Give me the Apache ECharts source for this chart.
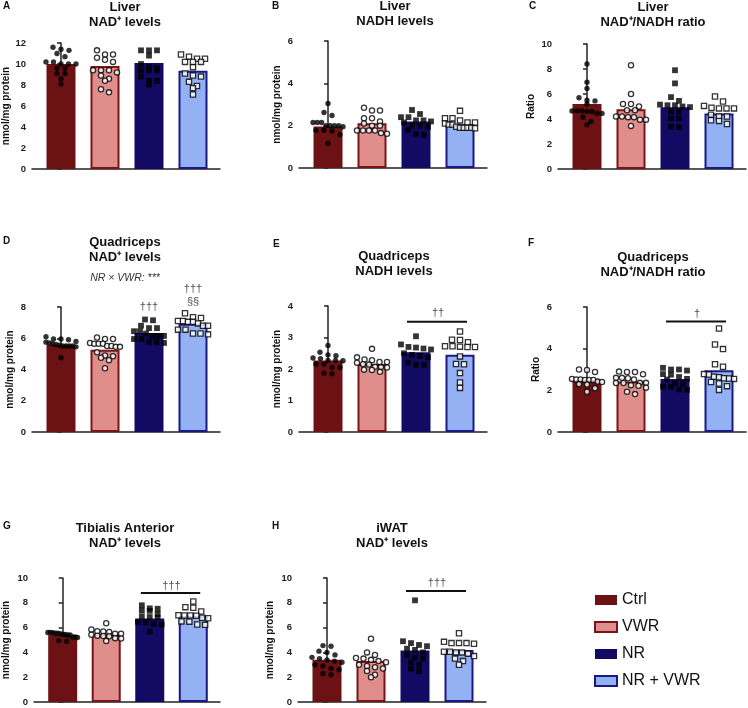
<!DOCTYPE html>
<html><head><meta charset="utf-8">
<script src="https://cdn.jsdelivr.net/npm/echarts@6/dist/echarts.min.js"></script>
<style>html,body{margin:0;padding:0;background:#fff}#c{width:748px;height:708px}</style>
</head><body><div id="c"></div><script>
const groups = ['Ctrl', 'VWR', 'NR', 'NR + VWR'];

// A: Liver NAD+
const liverNadMean = [10.0, 9.8, 10.1, 9.35];
const liverNadCtrl = [11.6, 11.4, 11.3, 11.0, 10.7, 10.2, 10.2, 10.0, 10.0, 10.0, 9.6, 9.6, 9.1, 9.1, 8.6, 8.1];
const liverNadVwr = [11.3, 10.9, 10.9, 10.6, 10.4, 10.2, 9.4, 9.4, 9.4, 9.2, 8.9, 8.6, 8.4, 7.6, 7.3];
const liverNadNr = [11.3, 11.3, 11.3, 10.8, 10.0, 9.7, 9.6, 9.4, 9.4, 9.4, 8.8, 8.4, 8.4, 8.05];
const liverNadNrVwr = [10.9, 10.7, 10.5, 10.5, 10.2, 10.2, 10.2, 9.7, 9.1, 8.9, 8.8, 8.3, 7.9, 7.7, 7.1];
// B: Liver NADH
const liverNadhMean = [1.96, 2.12, 2.2, 2.07];
const liverNadhCtrl = [3.05, 2.62, 2.48, 2.15, 2.15, 2.15, 2.0, 2.0, 2.0, 2.0, 1.95, 1.78, 1.78, 1.75, 1.57, 1.17];
const liverNadhVwr = [2.85, 2.72, 2.72, 2.35, 2.35, 2.2, 2.1, 2.0, 2.0, 1.77, 1.77, 1.77, 1.77, 1.65, 1.62];
const liverNadhNr = [2.74, 2.55, 2.4, 2.4, 2.25, 2.25, 2.2, 2.15, 2.0, 2.0, 1.95, 1.8, 1.6, 1.57];
const liverNadhNrVwr = [2.7, 2.35, 2.35, 2.25, 2.15, 2.15, 2.1, 2.05, 2.05, 1.95, 1.9, 1.9, 1.9, 1.9, 1.88];
// C: Liver ratio
const liverRatioMean = [5.21, 4.79, 4.95, 4.45];
const liverRatioCtrl = [8.4, 6.95, 6.45, 5.7, 5.5, 5.45, 5.2, 4.65, 4.65, 4.65, 4.6, 4.6, 4.45, 4.45, 4.15, 3.8, 3.55];
const liverRatioVwr = [8.3, 6.0, 5.2, 5.2, 5.0, 4.7, 4.7, 4.2, 4.2, 4.15, 4.15, 3.95, 3.95, 3.45];
const liverRatioNr = [7.9, 6.85, 5.75, 5.45, 5.15, 5.1, 5.1, 5.0, 4.95, 4.6, 4.6, 4.05, 4.05, 3.4, 3.35];
const liverRatioNrVwr = [5.8, 5.4, 5.05, 4.9, 4.85, 4.85, 4.85, 4.35, 4.2, 4.2, 3.9, 3.85, 3.6];
// D: Quadriceps NAD+
const quadNadMean = [5.58, 5.26, 6.33, 6.93];
const quadNadCtrl = [6.1, 5.95, 5.95, 5.9, 5.8, 5.75, 5.7, 5.65, 5.6, 5.55, 5.5, 5.5, 5.5, 5.5, 5.45, 4.75];
const quadNadVwr = [6.05, 5.95, 5.95, 5.7, 5.65, 5.65, 5.65, 5.5, 5.5, 5.45, 5.45, 5.1, 4.9, 4.85, 4.75, 4.6, 4.08];
const quadNadNr = [7.2, 7.15, 6.8, 6.65, 6.65, 6.45, 6.45, 6.3, 6.15, 6.15, 6.15, 5.95, 5.95, 5.75, 5.75, 5.7];
const quadNadNrVwr = [7.6, 7.35, 7.3, 7.1, 7.1, 7.05, 7.05, 6.95, 6.8, 6.8, 6.55, 6.55, 6.3, 6.3, 6.25];
// E: Quadriceps NADH
const quadNadhMean = [2.27, 2.16, 2.53, 2.45];
const quadNadhCtrl = [2.75, 2.53, 2.45, 2.42, 2.35, 2.33, 2.27, 2.27, 2.26, 2.16, 2.15, 2.05, 2.05, 1.87, 1.85];
const quadNadhVwr = [2.64, 2.37, 2.3, 2.28, 2.22, 2.22, 2.2, 2.15, 2.14, 2.07, 2.06, 2.05, 1.98, 1.97, 1.91];
const quadNadhNr = [3.04, 2.78, 2.7, 2.68, 2.65, 2.62, 2.5, 2.45, 2.42, 2.37, 2.2, 2.13, 2.13];
const quadNadhNrVwr = [3.19, 2.93, 2.92, 2.85, 2.72, 2.72, 2.71, 2.7, 2.7, 2.4, 2.16, 2.15, 1.87, 1.57, 1.4];
// F: Quadriceps ratio
const quadRatioMean = [2.51, 2.43, 2.54, 2.96];
const quadRatioCtrl = [3.0, 2.98, 2.88, 2.55, 2.52, 2.52, 2.5, 2.5, 2.5, 2.42, 2.4, 2.3, 2.28, 2.1, 1.93];
const quadRatioVwr = [2.9, 2.88, 2.88, 2.77, 2.6, 2.6, 2.58, 2.52, 2.36, 2.36, 2.35, 2.35, 2.25, 2.22, 2.13, 1.93, 1.82];
const quadRatioNr = [3.08, 3.0, 3.0, 2.95, 2.78, 2.75, 2.64, 2.55, 2.52, 2.35, 2.32, 2.18, 2.17, 2.05, 2.02];
const quadRatioNrVwr = [4.97, 4.2, 3.98, 3.25, 3.13, 2.78, 2.76, 2.65, 2.63, 2.58, 2.57, 2.55, 2.4, 2.33, 2.2, 2.02];
// G: Tibialis anterior NAD+
const taNadMean = [5.4, 5.45, 6.74, 6.93];
const taNadCtrl = [5.6, 5.6, 5.58, 5.55, 5.55, 5.5, 5.45, 5.45, 5.4, 5.4, 5.25, 5.25, 5.2, 4.95, 4.9];
const taNadVwr = [6.35, 5.85, 5.7, 5.68, 5.65, 5.5, 5.5, 5.42, 5.35, 5.32, 5.3, 5.15, 5.12, 4.92];
const taNadNr = [7.8, 7.55, 7.52, 7.38, 7.35, 7.1, 6.9, 6.85, 6.8, 6.45, 6.4, 6.28, 6.25, 5.68];
const taNadNrVwr = [8.1, 7.65, 7.6, 7.3, 7.0, 6.98, 6.97, 6.95, 6.8, 6.75, 6.5, 6.48, 6.25, 6.22];
// H: iWAT NAD+
const watNadMean = [3.4, 3.3, 4.15, 4.2];
const watNadCtrl = [4.55, 4.5, 4.1, 4.0, 3.8, 3.6, 3.5, 3.4, 3.3, 3.2, 3.0, 2.9, 2.7, 2.6, 2.3, 2.2];
const watNadVwr = [5.1, 4.0, 3.8, 3.55, 3.5, 3.4, 3.3, 3.2, 3.0, 2.9, 2.8, 2.7, 2.5, 2.2, 2.0];
const watNadNr = [8.2, 4.9, 4.75, 4.6, 4.5, 4.3, 4.2, 4.0, 3.8, 3.6, 3.5, 3.2, 3.0, 2.7, 2.5];
const watNadNrVwr = [5.55, 4.85, 4.75, 4.75, 4.75, 4.7, 4.05, 4.05, 4.0, 4.0, 3.9, 3.7, 3.5, 3.3, 3.0];

// significance annotations (value level of bar / text)
const sigE = { level: 3.5, text: '††', textLevel: 3.78 };
const sigF = { level: 5.3, text: '†', textLevel: 5.68 };
const sigG = { level: 8.8, text: '†††', textLevel: 9.35 };
const sigH = { level: 8.95, text: '†††', textLevel: 9.6 };
const marksD = [
  { group: 2, level: 8.0, text: '†††' },
  { group: 3, level: 9.15, text: '†††' },
  { group: 3, level: 8.3, text: '§§' }
];

const FONT = '"Liberation Sans", Arial, sans-serif';
const fills = ['#6c1214', '#e08e8c', '#130a64', '#93b1f3'];
const borders = ['#6c1214', '#7a1416', '#130a64', '#1b1884'];
const borderW = [0, 2, 0, 2];
const SPACING = 44, FIRST = 29, AXW = 188, BARW = 29;

const panels = [
  { letter: 'A', title: 'Liver\nNAD⁺ levels', left: 32, top: 43, height: 126, yMax: 12, step: 2, yName: 'nmol/mg protein', gap: 21, tx: 125, ty: 0, ly: 1.5, lx: 3, mean: liverNadMean, pts: [liverNadCtrl, liverNadVwr, liverNadNr, liverNadNrVwr] },
  { letter: 'B', title: 'Liver\nNADH levels', left: 299, top: 41, height: 127, yMax: 6, step: 2, yName: 'nmol/mg protein', gap: 17, tx: 395, ty: -1, ly: 1.5, lx: 272, mean: liverNadhMean, pts: [liverNadhCtrl, liverNadhVwr, liverNadhNr, liverNadhNrVwr] },
  { letter: 'C', title: 'Liver\nNAD⁺/NADH ratio', left: 558, top: 44, height: 125, yMax: 10, step: 2, yName: 'Ratio', gap: 22, tx: 653, ty: 0, ly: 1.5, lx: 529, mean: liverRatioMean, pts: [liverRatioCtrl, liverRatioVwr, liverRatioNr, liverRatioNrVwr] },
  { letter: 'D', title: 'Quadriceps\nNAD⁺ levels', left: 32, top: 307, height: 125, yMax: 8, step: 2, yName: 'nmol/mg protein', gap: 17, tx: 125, ty: 235, ly: 236.5, lx: 3, mean: quadNadMean, pts: [quadNadCtrl, quadNadVwr, quadNadNr, quadNadNrVwr], marks: marksD, note: 'NR × VWR: ***' },
  { letter: 'E', title: 'Quadriceps\nNADH levels', left: 299, top: 306, height: 126, yMax: 4, step: 1, yName: 'nmol/mg protein', gap: 17, tx: 394, ty: 248.5, ly: 239.5, lx: 273, mean: quadNadhMean, pts: [quadNadhCtrl, quadNadhVwr, quadNadhNr, quadNadhNrVwr], sig: sigE },
  { letter: 'F', title: 'Quadriceps\nNAD⁺/NADH ratio', left: 558, top: 307, height: 125, yMax: 6, step: 2, yName: 'Ratio', gap: 17, tx: 653, ty: 249.5, ly: 238.5, lx: 528, mean: quadRatioMean, pts: [quadRatioCtrl, quadRatioVwr, quadRatioNr, quadRatioNrVwr], sig: sigF, openCtrl: true },
  { letter: 'G', title: 'Tibialis Anterior\nNAD⁺ levels', left: 32, top: 578, height: 124, yMax: 10, step: 2, yName: 'nmol/mg protein', gap: 23, tx: 125, ty: 520.5, ly: 521.5, lx: 3, mean: taNadMean, pts: [taNadCtrl, taNadVwr, taNadNr, taNadNrVwr], sig: sigG },
  { letter: 'H', title: 'iWAT\nNAD⁺ levels', left: 298, top: 578, height: 124, yMax: 10, step: 2, yName: 'nmol/mg protein', gap: 23, tx: 392, ty: 520.5, ly: 521.5, lx: 272, mean: watNadMean, pts: [watNadCtrl, watNadVwr, watNadNr, watNadNrVwr], sig: sigH }
];

// scatter layout: points grouped into horizontal rows, rows centred on the bar
function rowLayout(vals, pxPerUnit, rowH, step, halfW) {
  const order = vals.map((v, i) => i).sort((a, b) => vals[b] - vals[a]);
  const xs = new Array(vals.length).fill(0);
  let row = [];
  let rowTop = null;
  const flush = () => {
    const n = row.length;
    const s = n > 1 ? Math.min(step, (2 * halfW) / (n - 1)) : 0;
    row.forEach((idx, j) => { xs[idx] = (j - (n - 1) / 2) * s; });
    row = [];
  };
  order.forEach(i => {
    const y = vals[i] * pxPerUnit;
    if (rowTop === null || rowTop - y > rowH) { flush(); rowTop = y; }
    row.push(i);
  });
  flush();
  return xs;
}

const grid = [], xAxis = [], yAxis = [], series = [], graphic = [];
const xmin = -FIRST / SPACING, xmax = (AXW - FIRST) / SPACING;

panels.forEach((p, k) => {
  grid.push({ left: p.left, top: p.top, width: AXW, height: p.height });
  xAxis.push({
    type: 'value', gridIndex: k, min: xmin, max: xmax,
    axisLine: { show: true, onZero: false, lineStyle: { color: '#222', width: 1.5 } },
    axisTick: { show: false }, axisLabel: { show: false }, splitLine: { show: false }
  });
  yAxis.push({
    type: 'value', gridIndex: k, min: 0, max: p.yMax, interval: p.step,
    name: p.yName, nameLocation: 'middle', nameGap: p.gap,
    nameTextStyle: { fontFamily: FONT, fontWeight: 'bold', fontSize: 10, color: '#111' },
    axisLine: { show: true, lineStyle: { color: '#222', width: 1.5 } },
    axisTick: { show: true, length: 4, lineStyle: { color: '#222', width: 1.5 } },
    axisLabel: { fontFamily: FONT, fontWeight: 'bold', fontSize: 9.5, color: '#222', margin: 6 },
    splitLine: { show: false }
  });
  const ppu = p.height / p.yMax;
  groups.forEach((g, gi) => {
    series.push({
      type: 'bar', name: g, xAxisIndex: k, yAxisIndex: k, barWidth: BARW, barGap: '-100%',
      data: [[gi, p.mean[gi]]], z: 2, silent: true,
      itemStyle: { color: fills[gi], borderColor: borders[gi], borderWidth: borderW[gi] }
    });
    const offs = rowLayout(p.pts[gi], ppu, 5.2, 8, 15);
    const open = gi === 1 || gi === 3 || (gi === 0 && p.openCtrl);
    const square = gi >= 2;
    series.push({
      type: 'scatter', name: g + ' values', xAxisIndex: k, yAxisIndex: k, z: 4, clip: false, silent: true,
      symbol: square ? 'rect' : 'circle',
      symbolSize: open ? 5.2 : (square ? 5.8 : 5.4),
      data: p.pts[gi].map((v, i) => [gi + offs[i] / SPACING, v]),
      itemStyle: open ? { color: '#fff', borderColor: '#000', borderWidth: 1.3 } : { color: '#000' }
    });
  });
  if (p.sig) {
    series.push({
      type: 'line', xAxisIndex: k, yAxisIndex: k, symbol: 'none', clip: false, silent: true, z: 5,
      data: [[2 - 9 / SPACING, p.sig.level], [3 + 7 / SPACING, p.sig.level]],
      lineStyle: { color: '#111', width: 2 }
    });
    series.push({
      type: 'scatter', xAxisIndex: k, yAxisIndex: k, clip: false, silent: true, z: 5, symbolSize: 1,
      itemStyle: { color: 'rgba(0,0,0,0)' },
      data: [[2.5, p.sig.textLevel]],
      label: { show: true, position: 'inside', formatter: p.sig.text, fontFamily: FONT, fontSize: 11, color: '#222' }
    });
  }
  if (p.marks) {
    series.push({
      type: 'scatter', xAxisIndex: k, yAxisIndex: k, clip: false, silent: true, z: 5, symbolSize: 1,
      itemStyle: { color: 'rgba(0,0,0,0)' },
      data: p.marks.map(m => ({ value: [m.group, m.level], label: { formatter: m.text } })),
      label: { show: true, position: 'inside', fontFamily: FONT, fontSize: 11, color: '#222' }
    });
  }
  graphic.push({ type: 'text', x: p.lx, y: p.ly, style: { text: p.letter, font: 'bold 10px ' + FONT, fill: '#111', verticalAlign: 'top' } });
  graphic.push({ type: 'text', x: p.tx, y: p.ty, style: { text: p.title, font: 'bold 13px ' + FONT, fill: '#111', align: 'center', verticalAlign: 'top', lineHeight: 15 } });
  if (p.note) {
    graphic.push({ type: 'text', x: p.tx, y: p.ty + 38, style: { text: p.note, font: 'italic 10.5px ' + FONT, fill: '#333', align: 'center', verticalAlign: 'top' } });
  }
});

const chart = echarts.init(document.getElementById('c'), null, { renderer: 'canvas' });
chart.setOption({
  animation: false,
  backgroundColor: '#fff',
  grid, xAxis, yAxis, series, graphic,
  legend: {
    data: groups, orient: 'vertical', left: 589, top: 587, icon: 'rect',
    itemWidth: 22, itemHeight: 10, itemGap: 11,
    textStyle: { fontFamily: FONT, fontSize: 16, color: '#111' }
  }
});
</script></body></html>
